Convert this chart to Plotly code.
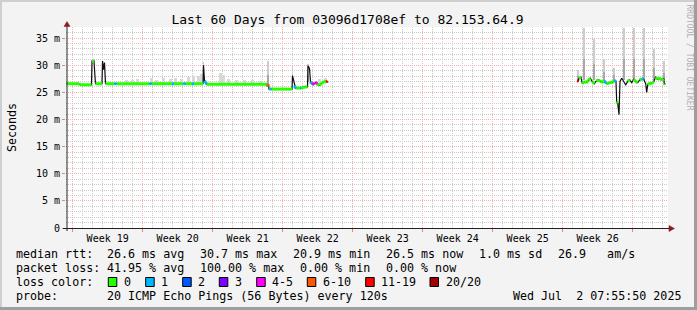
import pandas as pd
import plotly.graph_objects as go

# ---------------- data ----------------
END_TIME = pd.Timestamp("2025-07-02 07:55:50")
SPAN_DAYS = 60
START_TIME = END_TIME - pd.Timedelta(days=SPAN_DAYS)

TITLE = "Last 60 Days from 03096d1708ef to 82.153.64.9"
Y_TITLE = "Seconds"
Y_TICK_VALS = [0, 5, 10, 15, 20, 25, 30, 35]
Y_TICK_TEXT = ["0", "5 m", "10 m", "15 m", "20 m", "25 m", "30 m", "35 m"]
WEEK_STARTS = ["2025-05-04", "2025-05-11", "2025-05-18", "2025-05-25", "2025-06-01",
               "2025-06-08", "2025-06-15", "2025-06-22", "2025-06-29"]
WEEK_LABELS = ["Week 19", "Week 20", "Week 21", "Week 22", "Week 23",
               "Week 24", "Week 25", "Week 26", ""]

LOSS_LABELS = ["0", "1", "2", "3", "4-5", "6-10", "11-19", "20/20"]
LOSS_COLORS = ["#26ff00", "#00b8ff", "#0059ff", "#7e00ff",
               "#ff00ff", "#ff5500", "#ff0000", "#a10000"]

# median rtt, first data block (days after start, ms, loss bucket index)
P1_DAY = [0.05, 1.3, 1.4, 2.55, 2.6, 2.8, 2.88, 2.95, 3.6, 3.65, 3.75, 3.85, 3.95,
          4.85, 5.05, 8.35, 8.55, 10.6, 10.8, 11.75, 11.95, 12.6, 12.8, 13.7,
          13.75, 13.85, 13.95, 14.05, 20.1, 20.15, 20.25, 20.3, 20.4, 20.45, 20.55,
          22.6, 22.65, 22.75, 22.85, 22.95, 23.4, 23.5, 23.9, 24.15, 24.2, 24.35,
          24.45, 24.55, 24.65, 24.75, 25.0, 25.1, 25.35, 25.55, 25.8, 26.05, 26.15]
P1_MS = [26.6, 26.6, 26.4, 26.4, 30.8, 30.8, 28.4, 26.6, 26.6, 30.8, 29.2, 30.5, 26.6,
         26.6, 26.6, 26.6, 26.6, 26.6, 26.6, 26.6, 26.6, 26.6, 26.6, 26.6,
         30.0, 27.1, 26.9, 26.5, 26.5, 26.1, 26.5, 25.6, 25.6, 25.6, 25.6,
         25.6, 28.1, 27.2, 26.2, 25.8, 25.8, 25.8, 26.0, 26.0, 29.9, 29.4,
         27.0, 26.6, 26.8, 26.4, 26.9, 26.5, 26.3, 26.7, 27.0, 26.9, 27.1]
P1_LOSS = [0, 0, 0, 0, 0, 0, 1, 0, 0, 0, 1, 0, 0,
           1, 0, 1, 0, 1, 0, 1, 0, 1, 0, 0,
           0, 1, 1, 0, 0, 5, 5, 1, 0, 1, 0,
           0, 0, 0, 1, 0, 1, 0, 0, 0, 0, 0,
           1, 0, 4, 0, 4, 0, 0, 0, 0, 6, 6]

# median rtt, second data block
P2_DAY = [51.10, 51.23, 51.30, 51.50, 51.63, 51.83, 52.03, 52.23, 52.43, 52.63, 52.83,
          53.03, 53.23, 53.43, 53.63, 53.83, 54.03, 54.23, 54.43, 54.63, 54.83, 55.00,
          55.07, 55.17, 55.30, 55.40, 55.57, 55.77, 55.97, 56.17, 56.37, 56.57, 56.77,
          56.97, 57.17, 57.37, 57.57, 57.77, 57.97, 58.07, 58.17, 58.37, 58.57, 58.77,
          58.97, 59.17, 59.37, 59.57, 59.77, 59.83, 59.90]
P2_MS = [27.1, 27.1, 27.6, 27.8, 26.6, 27.0, 26.8, 27.2, 27.6, 27.0, 26.6,
         27.1, 27.3, 27.0, 26.9, 27.1, 26.7, 26.6, 26.9, 26.8, 27.2, 27.0,
         23.3, 23.0, 20.9, 27.0, 27.6, 27.0, 26.4, 27.0, 27.3, 26.8, 27.4,
         27.0, 26.8, 27.3, 27.5, 27.4, 26.6, 25.0, 26.4, 26.7, 26.6, 27.0,
         27.8, 27.4, 27.6, 27.3, 27.5, 26.6, 26.4]
P2_LOSS = [6, 6, 0, 0, 0, 0, 0, 0, 0, 0, 0,
           0, 0, 0, 0, 1, 0, 0, 0, 0, 1, 0,
           0, 0, 0, 0, 0, 0, 0, 0, 0, 0, 0,
           0, 0, 0, 1, 0, 0, 0, 0, 0, 0, 1,
           0, 0, 0, 0, 0, 0, 0]

# smoke (ping spread): broad bands and narrow spikes (days, low ms, high ms)
BAND_DAY = [6.0, 6.6, 7.1, 8.55, 9.0, 9.7, 10.4, 10.9, 11.5, 12.2, 12.7, 13.2, 13.5,
            15.4, 15.7, 16.2, 17.0, 17.8, 18.6, 19.4, 25.3, 25.9]
BAND_LO = [26.8] * 13 + [26.7] * 7 + [26.8, 27.0]
BAND_HI = [27.3, 27.2, 27.4, 27.6, 27.3, 27.7, 27.4, 27.6, 27.4, 27.9, 28.1, 28.0, 28.3,
           28.5, 28.2, 27.4, 27.3, 27.2, 27.2, 27.1, 27.5, 27.6]
SPIKE_DAY = [13.75, 20.2, 22.65, 24.2, 51.23, 51.83, 52.83, 53.83, 54.83, 55.83,
             56.83, 57.83, 58.83, 59.83]
SPIKE_LO = [27.0, 26.5, 26.8, 27.0, 27.3, 27.3, 27.3, 27.3, 27.3, 27.3,
            27.3, 27.3, 27.3, 27.3]
SPIKE_HI = [30.6, 30.8, 29.8, 30.2, 29.2, 36.8, 34.8, 31.1, 29.5, 36.8,
            36.8, 36.8, 33.0, 30.7]

LEGEND_ROWS = [
    [(16, "median rtt:"), (107.3, "26.6 ms avg"), (200.3, "30.7 ms max"),
     (293.3, "20.9 ms min"), (386, "26.5 ms now"), (479.3, "1.0 ms sd"),
     (558.3, "26.9   am/s")],
    [(16, "packet loss:"), (107.3, "41.95 % avg"), (200.3, "100.00 % max"),
     (300.3, "0.00 % min"), (386, "0.00 % now")],
    [(16, "loss color:")],
    [(16, "probe:"), (107.3, "20 ICMP Echo Pings (56 Bytes) every 120s"),
     (512.7, "Wed Jul  2 07:55:50 2025")],
]
LOSS_BOX_X = [108.3, 145.7, 182.7, 219.3, 256.7, 307.3, 365.7, 430.0]
WATERMARK = "RRDTOOL / TOBI OETIKER"

# ---------------- layout geometry (pixels) ----------------
W, H = 697, 310
L, R, T, B = 66, 668, 27, 228
FONT = "DejaVu Sans Mono"


def px_x(p):
    return (p - L) / (R - L)


def px_y(p):
    return (B - p) / (B - T)


def to_time(days):
    return [START_TIME + pd.Timedelta(days=d) for d in days]


fig = go.Figure()

# smoke bands
fig.add_trace(go.Bar(x=to_time(BAND_DAY), y=[h - l for h, l in zip(BAND_HI, BAND_LO)],
                     base=BAND_LO, width=0.3 * 86400000, marker_color="#d8d8d8",
                     marker_line_width=0, showlegend=False, hoverinfo="skip"))
fig.add_trace(go.Bar(x=to_time(SPIKE_DAY), y=[h - l for h, l in zip(SPIKE_HI, SPIKE_LO)],
                     base=SPIKE_LO, width=0.1 * 86400000, marker_color="#cccccc",
                     marker_line_width=0, showlegend=False, hoverinfo="skip"))
fig.add_trace(go.Bar(x=to_time(SPIKE_DAY), y=[(h - l) * 0.4 for h, l in zip(SPIKE_HI, SPIKE_LO)],
                     base=SPIKE_LO, width=0.1 * 86400000, marker_color="#a8a8a8",
                     marker_line_width=0, showlegend=False, hoverinfo="skip"))

# black median line
bx = to_time(P1_DAY) + [None] + to_time(P2_DAY)
by = P1_MS + [None] + P2_MS
fig.add_trace(go.Scatter(x=bx, y=by, mode="lines", line=dict(color="#101010", width=1.2),
                         connectgaps=False, showlegend=False, hoverinfo="skip"))

# loss-coloured median segments
for c, col in enumerate(LOSS_COLORS):
    sx, sy = [], []
    for days, vals, loss in ((P1_DAY, P1_MS, P1_LOSS), (P2_DAY, P2_MS, P2_LOSS)):
        t = to_time(days)
        for i in range(len(days) - 1):
            if loss[i] == c and abs(vals[i + 1] - vals[i]) <= 0.45:
                sx += [t[i], t[i + 1], None]
                sy += [vals[i], vals[i + 1], None]
    if sx:
        fig.add_trace(go.Scatter(x=sx, y=sy, mode="lines", line=dict(color=col, width=3),
                                 connectgaps=False, showlegend=False, hoverinfo="skip"))

shapes = []
# frame shading
shapes.append(dict(type="rect", xref="paper", yref="paper", x0=px_x(0), x1=px_x(W),
                   y0=px_y(0), y1=px_y(2), fillcolor="#cfcfcf", line_width=0, layer="below"))
shapes.append(dict(type="rect", xref="paper", yref="paper", x0=px_x(0), x1=px_x(2),
                   y0=px_y(0), y1=px_y(H), fillcolor="#cfcfcf", line_width=0, layer="below"))
shapes.append(dict(type="rect", xref="paper", yref="paper", x0=px_x(0), x1=px_x(W),
                   y0=px_y(H - 3), y1=px_y(H), fillcolor="#9e9e9e", line_width=0, layer="below"))
shapes.append(dict(type="rect", xref="paper", yref="paper", x0=px_x(W - 3), x1=px_x(W),
                   y0=px_y(0), y1=px_y(H), fillcolor="#9e9e9e", line_width=0, layer="below"))
# axes with arrows
shapes.append(dict(type="line", xref="paper", yref="paper", x0=px_x(63), x1=px_x(670),
                   y0=px_y(228.5), y1=px_y(228.5), line=dict(color="#202020", width=1)))
shapes.append(dict(type="line", xref="paper", yref="paper", x0=px_x(67), x1=px_x(67),
                   y0=px_y(231), y1=px_y(24), line=dict(color="#202020", width=1)))
shapes.append(dict(type="path", xref="paper", yref="paper",
                   path="M %f,%f L %f,%f L %f,%f Z" % (px_x(669), px_y(225.5), px_x(674.5), px_y(228.5),
                                                      px_x(669), px_y(231.5)),
                   fillcolor="#8b1a1a", line=dict(color="#8b1a1a", width=0.5)))
shapes.append(dict(type="path", xref="paper", yref="paper",
                   path="M %f,%f L %f,%f L %f,%f Z" % (px_x(64), px_y(26.5), px_x(67), px_y(21.5),
                                                      px_x(70), px_y(26.5)),
                   fillcolor="#8b1a1a", line=dict(color="#8b1a1a", width=0.5)))
# loss colour boxes
for bxp, col in zip(LOSS_BOX_X, LOSS_COLORS):
    shapes.append(dict(type="rect", xref="paper", yref="paper", x0=px_x(bxp), x1=px_x(bxp + 8.5),
                       y0=px_y(277.5), y1=px_y(286.5), fillcolor=col,
                       line=dict(color="#000000", width=1)))

annotations = []
ROW_Y = [254.3, 268.3, 282.2, 296.2]
for row, ypx in zip(LEGEND_ROWS, ROW_Y):
    for xpx, txt in row:
        annotations.append(dict(xref="paper", yref="paper", x=px_x(xpx - 1), y=px_y(ypx),
                                text=txt.replace(" ", "&nbsp;"), showarrow=False,
                                xanchor="left", yanchor="middle", borderpad=0,
                                font=dict(family=FONT, size=11.66, color="#000")))
for bxp, lab in zip(LOSS_BOX_X, LOSS_LABELS):
    annotations.append(dict(xref="paper", yref="paper", x=px_x(bxp + 14.5), y=px_y(282.2),
                            text=lab, showarrow=False, xanchor="left", yanchor="middle",
                            borderpad=0, font=dict(family=FONT, size=11.66, color="#000")))
annotations.append(dict(xref="paper", yref="paper", x=px_x(689), y=px_y(57.5),
                        text=WATERMARK, textangle=90, showarrow=False,
                        xanchor="center", yanchor="middle",
                        font=dict(family=FONT, size=8, color="#b0b0b0")))

fig.update_layout(
    width=W, height=H,
    margin=dict(l=L, r=W - R, t=T, b=H - B, pad=0),
    paper_bgcolor="#f3f3f3", plot_bgcolor="#ffffff",
    barmode="overlay", bargap=0,
    font=dict(family=FONT, size=10, color="#000"),
    title=dict(text=TITLE, x=347.5 / W, y=1 - 19.3 / H, xref="container", yref="container",
               xanchor="center", yanchor="middle",
               font=dict(family=FONT, size=13, color="#000")),
    xaxis=dict(type="date",
               range=[START_TIME, START_TIME + pd.Timedelta(days=60.2)],
               tickmode="array", tickvals=WEEK_STARTS, ticktext=WEEK_LABELS,
               ticklabelshift=35, ticklabelstandoff=-2,
               ticks="outside", ticklen=3, tickcolor="#f08080",
               showgrid=True, gridcolor="#f7b0b0", griddash="1px,1px", gridwidth=1,
               minor=dict(dtick=86400000, tick0="2025-05-04", showgrid=True,
                          gridcolor="#cacaca", griddash="1px,1px", ticks=""),
               zeroline=False, showline=False, fixedrange=True,
               tickfont=dict(family=FONT, size=10, color="#000")),
    yaxis=dict(range=[0, 37.05], tickmode="array", tickvals=Y_TICK_VALS, ticktext=Y_TICK_TEXT,
               ticks="outside", ticklen=3, tickcolor="#f08080",
               showgrid=True, gridcolor="#f7b0b0", griddash="1px,1px", gridwidth=1,
               minor=dict(dtick=1, showgrid=True, gridcolor="#cacaca", griddash="1px,1px",
                          ticks=""),
               zeroline=False, showline=False, fixedrange=True,
               title=dict(text=Y_TITLE, standoff=16, font=dict(family=FONT, size=11.66)),
               tickfont=dict(family=FONT, size=10, color="#000")),
    shapes=shapes, annotations=annotations, showlegend=False,
)

fig.write_html("out.html")
